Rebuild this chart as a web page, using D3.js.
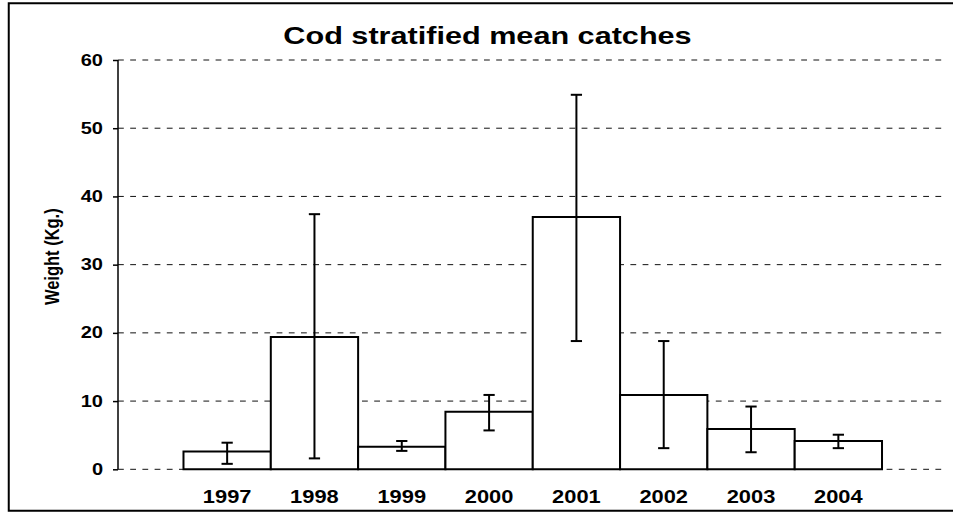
<!DOCTYPE html>
<html>
<head>
<meta charset="utf-8">
<script src="https://cdn.jsdelivr.net/npm/d3@7"></script>
<style>
  body { margin: 0; background: #fff; }
  svg { display: block; }
  text { font-family: Arial, "Liberation Sans", sans-serif; font-weight: bold; fill: #000; }
</style>
</head>
<body>
<div id="chart"></div>
<script>
// Chart data
var years = ["1997", "1998", "1999", "2000", "2001", "2002", "2003", "2004"];
var means = [2.6, 19.4, 3.3, 8.45, 37.0, 10.9, 5.9, 4.15];
var lower = [0.8, 1.6, 2.7, 5.7, 18.8, 3.1, 2.5, 3.1];
var upper = [3.9, 37.4, 4.15, 10.9, 54.9, 18.8, 9.2, 5.07];
var yTicks = [0, 10, 20, 30, 40, 50, 60];

// The picture is stretched sideways, so draw in a narrower box and let it stretch
var stretch = 1.25;
var W = 953 / stretch, H = 512;

var svg = d3.select("#chart").append("svg")
    .attr("width", 953)
    .attr("height", 512)
    .attr("viewBox", "0 0 " + W + " " + H)
    .attr("preserveAspectRatio", "none");

// Outer frame
svg.append("rect")
    .attr("x", 7)
    .attr("y", 3.2)
    .attr("width", W + 20)
    .attr("height", 507.5)
    .attr("fill", "none")
    .attr("stroke", "#000")
    .attr("stroke-width", 2)
    .attr("vector-effect", "non-scaling-stroke");

var plotLeft = 94.4, plotRight = 758;

var x = d3.scaleBand()
    .domain(years)
    .range([plotLeft, plotRight])
    .paddingInner(0)
    .paddingOuter(0.75);

var y = d3.scaleLinear()
    .domain([0, 60])
    .range([469.3, 60]);

// Dashed grid lines
svg.append("g")
    .selectAll("line")
    .data(yTicks)
    .enter().append("line")
    .attr("x1", plotLeft)
    .attr("x2", plotRight)
    .attr("y1", function (d) { return y(d); })
    .attr("y2", function (d) { return y(d); })
    .attr("stroke", "#111")
    .attr("stroke-width", 1)
    .attr("stroke-dasharray", "5.8,6.4")
    .attr("vector-effect", "non-scaling-stroke");

// Y axis
var yAxis = svg.append("g")
    .attr("transform", "translate(" + plotLeft + ",0)")
    .call(d3.axisLeft(y).tickValues(yTicks).tickSize(4).tickPadding(8));

yAxis.selectAll("path, line")
    .attr("stroke", "#000")
    .attr("stroke-width", 1.5)
    .attr("vector-effect", "non-scaling-stroke");
yAxis.select(".domain").attr("d", "M0," + y(60) + "V" + y(0));
yAxis.selectAll("text")
    .attr("font-size", "16px")
    .attr("font-family", null);

// Bars
svg.append("g")
    .selectAll("rect")
    .data(years)
    .enter().append("rect")
    .attr("x", function (d) { return x(d); })
    .attr("width", x.bandwidth())
    .attr("y", function (d, i) { return y(means[i]); })
    .attr("height", function (d, i) { return y(0) - y(means[i]); })
    .attr("fill", "#fff")
    .attr("stroke", "#000")
    .attr("stroke-width", 2)
    .attr("vector-effect", "non-scaling-stroke");

// Error bars
var capHalf = 4.5;
var err = svg.append("g")
    .selectAll("g")
    .data(years)
    .enter().append("g");

err.append("line")
    .attr("x1", function (d) { return x(d) + x.bandwidth() / 2; })
    .attr("x2", function (d) { return x(d) + x.bandwidth() / 2; })
    .attr("y1", function (d, i) { return y(lower[i]); })
    .attr("y2", function (d, i) { return y(upper[i]); });

err.append("line")
    .attr("x1", function (d) { return x(d) + x.bandwidth() / 2 - capHalf; })
    .attr("x2", function (d) { return x(d) + x.bandwidth() / 2 + capHalf; })
    .attr("y1", function (d, i) { return y(upper[i]); })
    .attr("y2", function (d, i) { return y(upper[i]); });

err.append("line")
    .attr("x1", function (d) { return x(d) + x.bandwidth() / 2 - capHalf; })
    .attr("x2", function (d) { return x(d) + x.bandwidth() / 2 + capHalf; })
    .attr("y1", function (d, i) { return y(lower[i]); })
    .attr("y2", function (d, i) { return y(lower[i]); });

err.selectAll("line")
    .attr("stroke", "#000")
    .attr("stroke-width", 2)
    .attr("vector-effect", "non-scaling-stroke");

// Category labels
svg.append("g")
    .selectAll("text")
    .data(years)
    .enter().append("text")
    .attr("x", function (d) { return x(d) + x.bandwidth() / 2; })
    .attr("y", 503.3)
    .attr("text-anchor", "middle")
    .attr("font-size", "17.5px")
    .text(function (d) { return d; });

// Title
svg.append("text")
    .attr("x", 390)
    .attr("y", 44.5)
    .attr("text-anchor", "middle")
    .attr("font-size", "24.5px")
    .text("Cod stratified mean catches");

// Y label
svg.append("text")
    .attr("transform", "translate(47,256.7) rotate(-90)")
    .attr("text-anchor", "middle")
    .attr("font-size", "16.5px")
    .text("Weight (Kg.)");
</script>
</body>
</html>
